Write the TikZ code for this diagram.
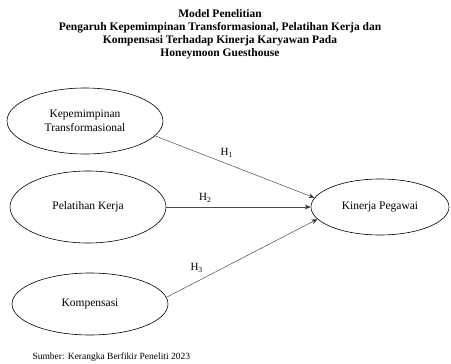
\documentclass[tikz,border=0pt]{standalone}
\usepackage{fontspec}
\setmainfont{Liberation Serif}
\usetikzlibrary{shapes.geometric,arrows.meta}

\tikzset{
    var/.style={ellipse,draw,semithick,inner sep=0pt,minimum width=156pt,minimum height=66pt,
        align=center,font=\fontsize{11.5}{14}\selectfont},
    path/.style={draw=black!70,line width=0.5pt,-{Stealth[length=6pt,width=5pt,fill=black]}},
    hyp/.style={font=\fontsize{11}{12}\selectfont}
}

\begin{document}
\begin{tikzpicture}[x=1pt,y=-1pt]
            \useasboundingbox (0,0) rectangle (451,364);
            \node [font=\bfseries\fontsize{11.5}{13}\selectfont,align=center] (title) at (220,34)
                {Model Penelitian\\
                 Pengaruh Kepemimpinan Transformasional, Pelatihan Kerja dan\\
                 Kompensasi Terhadap Kinerja Karyawan Pada\\
                 Honeymoon Guesthouse};

            \node [var] (kep) at (85,121) {Kepemimpinan\\Transformasional};
            \node [var,minimum height=72pt] (pel) at (88,207) {Pelatihan Kerja};
            \node [var,minimum height=62pt] (kom) at (90,304) {Kompensasi};
            \node [var,minimum width=138pt,minimum height=56pt] (kin) at (380,207) {Kinerja Pegawai};

            \draw [path] (kep.-12) -- (kin.172) node [hyp,pos=0.45,above=3pt] {H\textsubscript{1}};
            \draw [path] (pel.east) -- (kin.west) node [hyp,pos=0.27,above=1pt] {H\textsubscript{2}};
            \draw [path] (kom.5) -- (kin.191) node [hyp,pos=0.2,above=6pt] {H\textsubscript{3}};

            \node [anchor=west,font=\fontsize{9.5}{11}\selectfont] (src) at (29,357)
                {Sumber: Kerangka Berfikir Peneliti 2023};
\end{tikzpicture}
\end{document}
